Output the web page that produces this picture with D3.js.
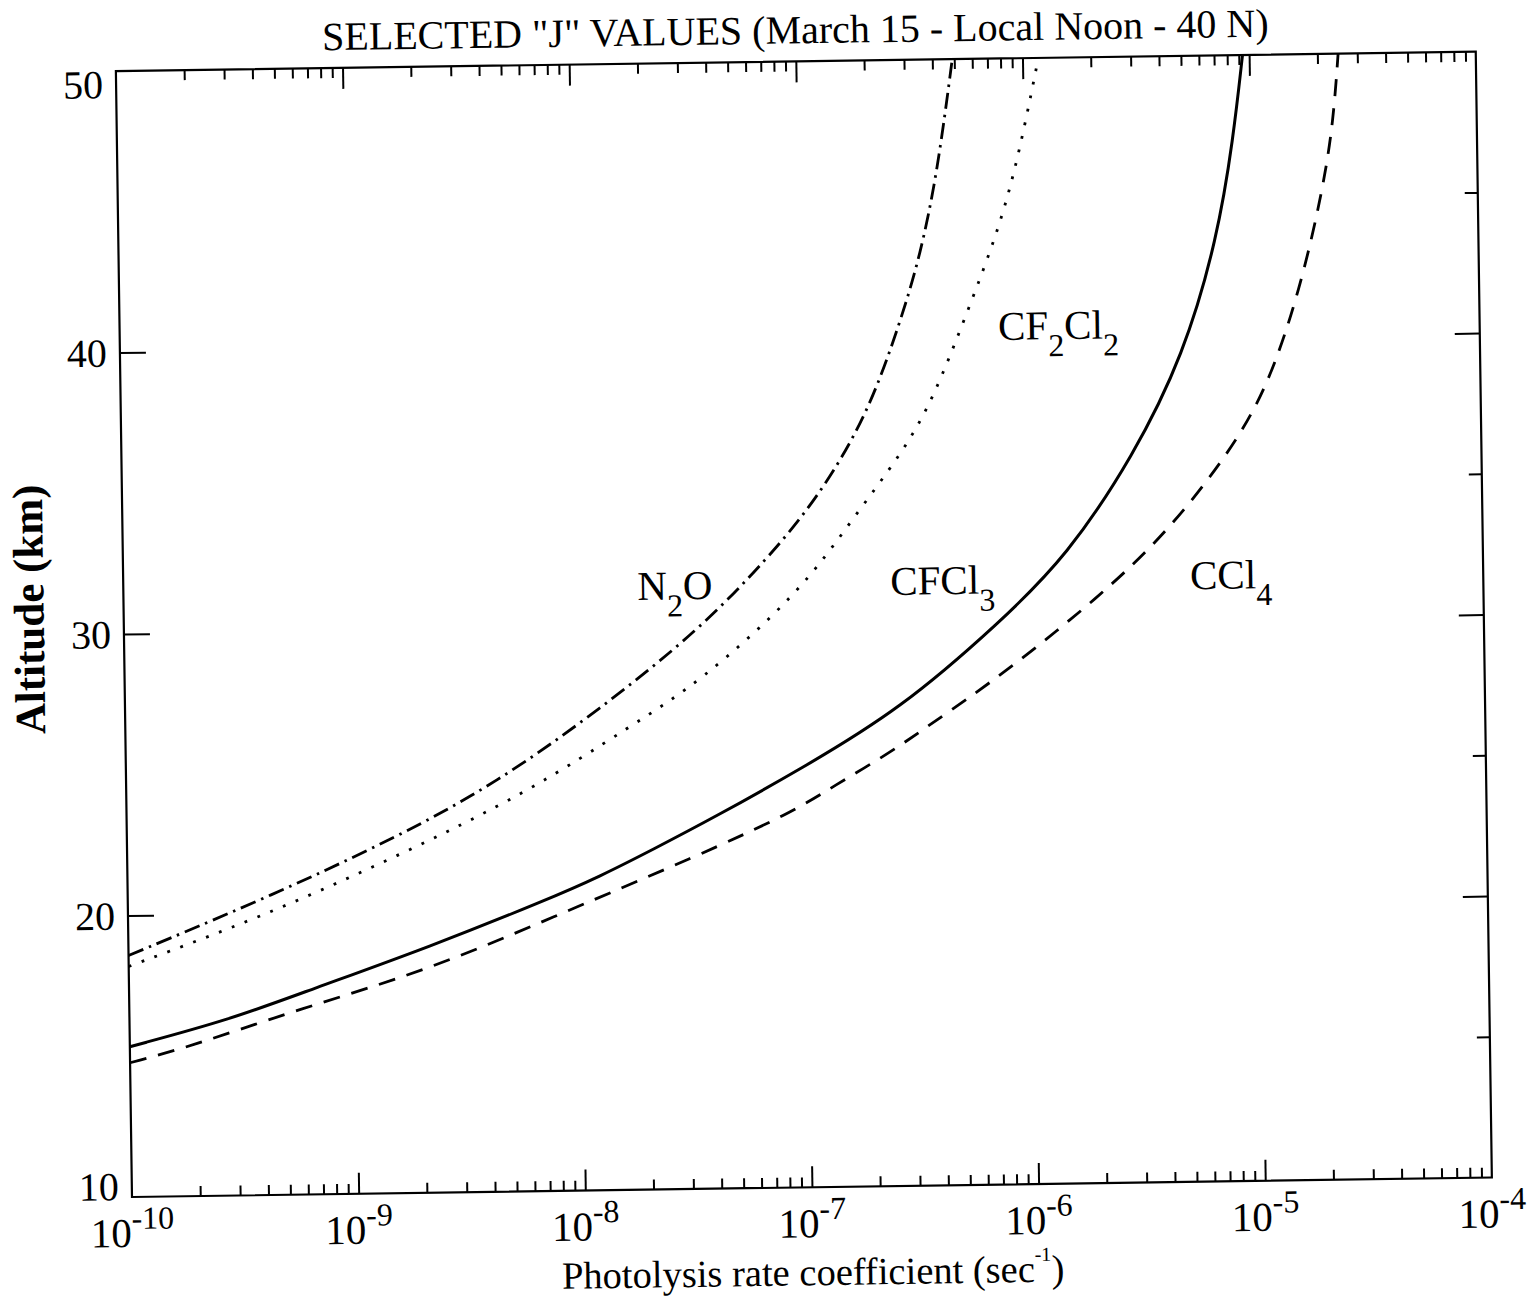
<!DOCTYPE html>
<html>
<head>
<meta charset="utf-8">
<script src="https://cdn.jsdelivr.net/npm/d3@7"></script>
<style>
  body { margin: 0; background: #fff; }
  svg text { font-family: "Liberation Serif", "Times New Roman", serif; fill: #000; }
</style>
</head>
<body>
<svg id="chart" width="1534" height="1297"></svg>
<script>
// Photolysis rate coefficients J (s^-1) versus altitude (km), March 15, local noon, 40 N.
const n2oAlt = [18.58, 20.50, 22.64, 24.54, 27.09, 29.88, 32.34, 34.45, 37.38, 40.70, 43.04, 46.02, 50.0];
const n2oJ   = [1.0e-10, 3.95e-10, 1.556e-9, 4.34e-9, 1.247e-8, 3.48e-8, 6.95e-8, 1.167e-7, 1.963e-7, 2.786e-7, 3.44e-7, 4.15e-7, 4.90e-7];

const cf2cl2Alt = [18.19, 19.90, 21.96, 24.21, 26.47, 28.0, 31.15, 33.61, 36.08, 37.95, 41.02, 44.07, 46.80, 50.0];
const cf2cl2J   = [1.0e-10, 3.94e-10, 1.552e-9, 6.05e-9, 1.687e-8, 3.46e-8, 9.68e-8, 1.626e-7, 2.81e-7, 3.85e-7, 5.51e-7, 7.80e-7, 9.66e-7, 1.175e-6];

const cfcl3Alt = [15.34, 16.25, 17.27, 18.74, 20.35, 21.15, 22.08, 23.21, 24.85, 26.93, 29.98, 32.30, 35.81, 39.35, 43.49, 47.04, 50.0];
const cfcl3J   = [1.0e-10, 2.78e-10, 6.30e-10, 2.14e-9, 7.08e-9, 1.216e-8, 2.09e-8, 3.96e-8, 9.42e-8, 2.63e-7, 7.35e-7, 1.466e-6, 2.91e-6, 4.91e-6, 7.05e-6, 8.41e-6, 9.35e-6];

const ccl4Alt = [14.77, 15.31, 16.57, 17.92, 19.88, 21.81, 23.32, 24.23, 25.44, 26.45, 28.05, 30.85, 33.09, 35.77, 38.13, 41.67, 45.22, 47.60, 50.0];
const ccl4J   = [1.0e-10, 1.845e-10, 5.50e-10, 2.13e-9, 8.32e-9, 3.24e-8, 8.63e-8, 1.315e-7, 2.41e-7, 3.66e-7, 7.29e-7, 2.04e-6, 4.06e-6, 7.55e-6, 1.146e-5, 1.626e-5, 2.08e-5, 2.33e-5, 2.47e-5];

// Species labels: alternating main / subscript pieces, anchored at (J, altitude)
const labelNames  = [["N", "2", "O"], ["CF", "2", "Cl", "2"], ["CFCl", "3"], ["CCl", "4"]];
const labelJ      = [1.85e-8, 7.5e-7, 2.42e-7, 5.09e-6];
const labelAlt    = [30.95, 40.0, 31.0, 31.05];

// Axis ticks
const jDecadeExponents = [-10, -9, -8, -7, -6, -5, -4];
const altMajorTicks = [20, 30, 40];
const altMinorTicks = [15, 25, 35, 45];
const altLabels = [10, 20, 30, 40, 50];

const titleText = "SELECTED \"J\" VALUES (March 15 - Local Noon - 40 N)";
const xTitleText = "Photolysis rate coefficient (sec";
const yTitleText = "Altitude (km)";

// ---- layout ----
const plotLeft = 132, plotRight = 1492, plotTop = 71, plotBottom = 1197;

const x = d3.scaleLog().domain([1e-10, 1e-4]).range([plotLeft, plotRight]);
const y = d3.scaleLinear().domain([10, 50]).range([plotBottom, plotTop]);

const svg = d3.select("#chart");
// the whole figure sits slightly tilted
const root = svg.append("g").attr("transform", `rotate(-0.82 ${plotLeft} ${plotBottom})`);

const decadeValues = jDecadeExponents.map(e => Math.pow(10, e));
const minorValues = [];
jDecadeExponents.slice(0, -1).forEach(e => {
  for (let m = 2; m <= 9; m++) minorValues.push(m * Math.pow(10, e));
});

function styleAxis(g) {
  g.select(".domain").remove();
  g.selectAll(".tick line").attr("stroke", "#000").attr("stroke-width", 2);
  g.selectAll(".tick text").remove();
}

// bottom ticks (pointing inward)
root.append("g").attr("transform", `translate(0,${plotBottom})`)
  .call(d3.axisBottom(x).tickValues(minorValues).tickSizeInner(-10).tickSizeOuter(0)).call(styleAxis);
root.append("g").attr("transform", `translate(0,${plotBottom})`)
  .call(d3.axisBottom(x).tickValues(decadeValues.slice(1, -1)).tickSizeInner(-21).tickSizeOuter(0)).call(styleAxis);
// top ticks
root.append("g").attr("transform", `translate(0,${plotTop})`)
  .call(d3.axisTop(x).tickValues(minorValues).tickSizeInner(-10).tickSizeOuter(0)).call(styleAxis);
root.append("g").attr("transform", `translate(0,${plotTop})`)
  .call(d3.axisTop(x).tickValues(decadeValues.slice(1, -1)).tickSizeInner(-21).tickSizeOuter(0)).call(styleAxis);
// left ticks
root.append("g").attr("transform", `translate(${plotLeft},0)`)
  .call(d3.axisLeft(y).tickValues(altMajorTicks).tickSizeInner(-26).tickSizeOuter(0)).call(styleAxis);
// right ticks
root.append("g").attr("transform", `translate(${plotRight},0)`)
  .call(d3.axisRight(y).tickValues(altMajorTicks).tickSizeInner(-25).tickSizeOuter(0)).call(styleAxis);
root.append("g").attr("transform", `translate(${plotRight},0)`)
  .call(d3.axisRight(y).tickValues(altMinorTicks).tickSizeInner(-13).tickSizeOuter(0)).call(styleAxis);

// frame
root.append("rect")
  .attr("x", plotLeft).attr("y", plotTop)
  .attr("width", plotRight - plotLeft).attr("height", plotBottom - plotTop)
  .attr("fill", "none").attr("stroke", "#000").attr("stroke-width", 2.2);

// altitude tick labels (end labels kept inside the frame height)
root.append("g").selectAll("text").data(altLabels).join("text")
  .attr("x", plotLeft - 13)
  .attr("y", d => Math.max(plotTop + 27, Math.min(plotBottom + 3, y(d) + 14)))
  .attr("text-anchor", "end")
  .attr("font-size", 40)
  .text(d => d);

// J tick labels: 10 with superscript exponent
const xl = root.append("g").selectAll("text").data(jDecadeExponents).join("text")
  .attr("x", e => x(Math.pow(10, e)))
  .attr("y", plotBottom + 50)
  .attr("text-anchor", "middle")
  .attr("font-size", 41);
xl.append("tspan").text("10");
xl.append("tspan").attr("font-size", 32).attr("dy", -18).text(e => "-" + Math.abs(e));

// series
const series = [
  { alt: n2oAlt, j: n2oJ, dash: "16,6,2.5,6", w: 2.8 },
  { alt: cf2cl2Alt, j: cf2cl2J, dash: "2.8,11", w: 2.8 },
  { alt: cfcl3Alt, j: cfcl3J, dash: null, w: 3 },
  { alt: ccl4Alt, j: ccl4J, dash: "17,12", w: 2.8 }
];

const line = d3.line()
  .x(d => x(d[0]))
  .y(d => y(d[1]))
  .curve(d3.curveBasis);

root.append("g").selectAll("path").data(series).join("path")
  .attr("d", s => line(s.j.map((v, i) => [v, s.alt[i]])))
  .attr("fill", "none")
  .attr("stroke", "#000")
  .attr("stroke-width", s => s.w)
  .attr("stroke-dasharray", s => s.dash);

// species labels with subscripts
labelNames.forEach((parts, k) => {
  const t = root.append("text")
    .attr("x", x(labelJ[k]))
    .attr("y", y(labelAlt[k]))
    .attr("font-size", 41);
  parts.forEach((p, i) => {
    const sub = i % 2 === 1;
    t.append("tspan")
      .attr("font-size", sub ? 32 : 41)
      .attr("dy", sub ? 17 : (i > 0 ? -17 : 0))
      .text(p);
  });
});

// titles
root.append("text")
  .attr("x", (plotLeft + plotRight) / 2).attr("y", 53)
  .attr("text-anchor", "middle").attr("font-size", 40)
  .text(titleText);

const xt = root.append("text")
  .attr("x", (plotLeft + plotRight) / 2).attr("y", 1295)
  .attr("text-anchor", "middle").attr("font-size", 38.5);
xt.append("tspan").text(xTitleText);
xt.append("tspan").attr("font-size", 20).attr("dy", -21).text("-1");
xt.append("tspan").attr("dy", 21).text(")");

root.append("text")
  .attr("transform", `translate(52,608) rotate(-90)`)
  .attr("text-anchor", "middle").attr("font-size", 43).attr("font-weight", "bold")
  .text(yTitleText);
</script>
</body>
</html>
